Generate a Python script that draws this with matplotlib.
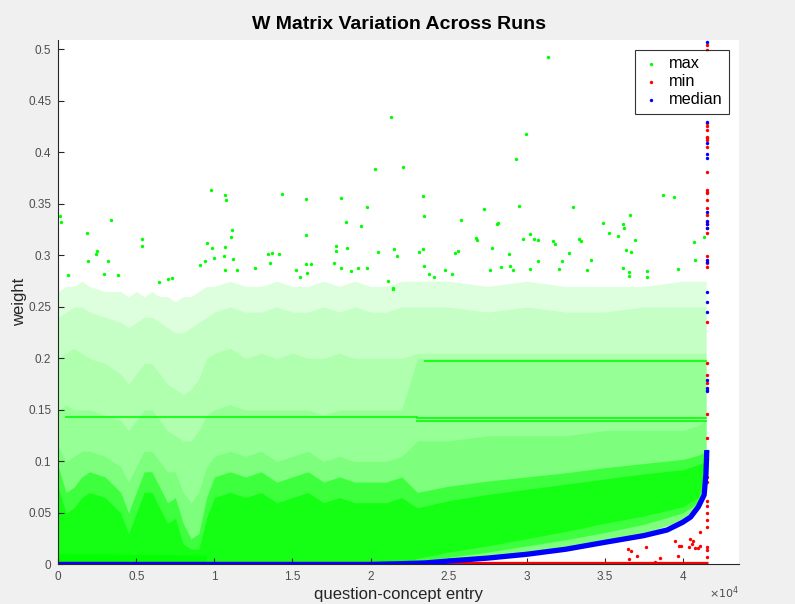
import numpy as np
import matplotlib
matplotlib.use('Agg')
import matplotlib.pyplot as plt

plt.rcParams['font.family'] = ['Liberation Sans', 'DejaVu Sans']

# ---- data (x in units of 1e4 entries) ----
# sparse "max" values above the dense cloud
max_out_x = [2.129, 2.027, 1.980, 1.941, 1.845, 1.809, 1.585, 1.433, 0.976, 1.068,
             1.076, 0.338, 0.010, 0.020, 0.182, 0.538, 0.538, 1.113, 1.106, 1.585,
             1.847, 1.777, 1.777, 2.048, 2.151, 0.951, 0.985, 1.066, 0.248, 0.244,
             0.188, 0.316, 1.345, 1.369, 1.414, 0.999, 1.063, 1.117, 0.060, 0.291,
             0.384, 1.262, 1.356, 1.589, 1.621, 1.591, 1.768, 1.811, 1.877, 1.920,
             1.980, 1.068, 1.147, 0.908, 0.938, 0.645, 0.701, 0.730, 1.525, 1.546,
             2.112, 2.146,
             3.139, 2.994, 2.206, 2.934, 2.336, 2.345, 2.953, 3.299, 2.729, 2.582,
             2.808, 2.819, 3.876, 3.944, 3.662, 3.487, 3.526, 3.583, 3.620, 3.626,
             3.692, 3.637, 3.667, 4.074, 4.138, 4.077, 3.972, 3.022, 3.049, 3.075,
             2.975, 3.171, 3.182, 3.338, 3.348, 3.272, 3.413, 3.229, 3.073, 2.889,
             2.776, 2.676, 2.682, 2.543, 2.560, 2.172, 2.311, 2.338, 2.343, 2.373,
             2.407, 2.479, 2.522, 2.766, 2.836, 2.896, 2.913, 3.024, 3.206, 3.389,
             3.616, 3.654, 3.658, 3.769, 3.769, 2.142]
max_out_y = [0.4345, 0.3837, 0.3468, 0.3283, 0.3328, 0.3555, 0.3549, 0.3597, 0.3639, 0.3584,
             0.3536, 0.3348, 0.3380, 0.3322, 0.3218, 0.3160, 0.3090, 0.3248, 0.3177, 0.3196,
             0.3070, 0.3090, 0.3044, 0.3030, 0.3060, 0.3118, 0.3076, 0.3086, 0.3040, 0.3010,
             0.2950, 0.2950, 0.3015, 0.3024, 0.3010, 0.2979, 0.2992, 0.2966, 0.2808, 0.2820,
             0.2814, 0.2876, 0.2923, 0.2915, 0.2918, 0.2827, 0.2924, 0.2882, 0.2852, 0.2876,
             0.2876, 0.2859, 0.2856, 0.2908, 0.2947, 0.2743, 0.2769, 0.2779, 0.2859, 0.2788,
             0.2755, 0.2675,
             0.4927, 0.4180, 0.3862, 0.3934, 0.3578, 0.3384, 0.3480, 0.3468, 0.3455, 0.3342,
             0.3306, 0.3319, 0.3587, 0.3571, 0.3393, 0.3316, 0.3215, 0.3192, 0.3303, 0.3270,
             0.3154, 0.3050, 0.3037, 0.3131, 0.3183, 0.2953, 0.2872, 0.3206, 0.3160, 0.3151,
             0.3157, 0.3141, 0.3109, 0.3160, 0.3144, 0.3027, 0.2953, 0.2944, 0.2944, 0.3012,
             0.3073, 0.3167, 0.3150, 0.3024, 0.3041, 0.2992, 0.3037, 0.3066, 0.2901, 0.2823,
             0.2788, 0.2859, 0.2817, 0.2862, 0.2888, 0.2895, 0.2859, 0.2869, 0.2866, 0.2862,
             0.2882, 0.2843, 0.2804, 0.2852, 0.2788, 0.2680]

# envelope of the "max" cloud, layered from sparse (top) to dense (bottom)
cloud_x = [0, 0.05, 0.1, 0.15, 0.2, 0.3, 0.4, 0.45, 0.5, 0.55, 0.6, 0.65, 0.7, 0.75,
           0.8, 0.85, 0.9, 0.95, 1.0, 1.1, 1.2, 1.3, 1.4, 1.5, 1.6, 1.7, 1.8, 1.9,
           2.0, 2.1, 2.2, 2.3, 2.5, 2.75, 3.0, 3.25, 3.5, 3.75, 4.0, 4.1, 4.15]
cloud_low = [0, 0, 0, 0, 0, 0, 0, 0, 0, 0, 0, 0, 0, 0,
             0, 0, 0, 0, 0, 0, 0, 0, 0, 0, 0, 0, 0, 0,
             0, 0, 0, 0.001, 0.004, 0.007, 0.011, 0.016, 0.023, 0.03, 0.043, 0.058, 0.09]
layer1_top = [0.265, 0.27, 0.27, 0.275, 0.27, 0.265, 0.265, 0.26, 0.265, 0.26, 0.265, 0.26, 0.26, 0.255,
              0.26, 0.26, 0.265, 0.27, 0.27, 0.275, 0.27, 0.27, 0.275, 0.27, 0.27, 0.275, 0.27, 0.275,
              0.27, 0.27, 0.275, 0.275, 0.275, 0.27, 0.275, 0.27, 0.27, 0.27, 0.275, 0.275, 0.275]
layer2_top = [0.24, 0.245, 0.25, 0.25, 0.245, 0.24, 0.235, 0.23, 0.235, 0.24, 0.24, 0.235, 0.23, 0.225,
              0.225, 0.23, 0.235, 0.24, 0.245, 0.25, 0.245, 0.245, 0.25, 0.245, 0.245, 0.25, 0.245, 0.25,
              0.245, 0.245, 0.25, 0.25, 0.25, 0.245, 0.25, 0.245, 0.245, 0.25, 0.25, 0.25, 0.25]
layer3_top = [0.2, 0.205, 0.21, 0.205, 0.2, 0.195, 0.185, 0.175, 0.185, 0.195, 0.195, 0.185, 0.175, 0.17,
              0.165, 0.17, 0.18, 0.2, 0.205, 0.21, 0.2, 0.205, 0.2, 0.205, 0.2, 0.2, 0.205, 0.2,
              0.2, 0.2, 0.2, 0.205, 0.205, 0.205, 0.205, 0.205, 0.205, 0.205, 0.205, 0.205, 0.205]
layer4_top = [0.15, 0.155, 0.15, 0.15, 0.15, 0.145, 0.14, 0.13, 0.14, 0.15, 0.15, 0.14, 0.13, 0.125,
              0.12, 0.12, 0.13, 0.145, 0.15, 0.155, 0.15, 0.15, 0.15, 0.15, 0.15, 0.145, 0.15, 0.15,
              0.15, 0.15, 0.15, 0.2, 0.2, 0.2, 0.2, 0.2, 0.2, 0.2, 0.2, 0.2, 0.2]
layer5_top = [0.115, 0.1, 0.105, 0.11, 0.11, 0.105, 0.095, 0.08, 0.095, 0.11, 0.11, 0.1, 0.09, 0.09,
              0.07, 0.06, 0.07, 0.095, 0.105, 0.11, 0.105, 0.11, 0.1, 0.105, 0.11, 0.1, 0.105, 0.1,
              0.1, 0.1, 0.105, 0.12, 0.12, 0.125, 0.125, 0.125, 0.13, 0.13, 0.13, 0.135, 0.14]
dense_low = [0, 0, 0, 0, 0, 0, 0, 0, 0, 0, 0, 0, 0, 0,
             0, 0, 0, 0, 0, 0, 0, 0, 0, 0, 0, 0, 0, 0,
             0, 0, 0, 0.003, 0.007, 0.012, 0.018, 0.024, 0.031, 0.039, 0.05, 0.06, 0.09]
dense_top = [0.095, 0.07, 0.075, 0.085, 0.09, 0.085, 0.07, 0.05, 0.07, 0.09, 0.09, 0.075, 0.06, 0.065,
             0.04, 0.025, 0.03, 0.065, 0.085, 0.09, 0.085, 0.09, 0.08, 0.085, 0.09, 0.08, 0.085, 0.08,
             0.08, 0.08, 0.085, 0.07, 0.076, 0.081, 0.085, 0.089, 0.094, 0.098, 0.102, 0.106, 0.11]
core_low = [0, 0, 0, 0, 0, 0, 0, 0, 0, 0, 0, 0, 0, 0,
            0, 0, 0, 0, 0, 0, 0, 0, 0, 0, 0, 0, 0, 0,
            0, 0, 0, 0.006, 0.012, 0.018, 0.025, 0.032, 0.04, 0.047, 0.056, 0.065, 0.095]
core_top = [0.075, 0.05, 0.055, 0.065, 0.07, 0.065, 0.05, 0.03, 0.05, 0.07, 0.07, 0.055, 0.04, 0.045,
            0.02, 0.015, 0.015, 0.045, 0.065, 0.07, 0.065, 0.07, 0.06, 0.065, 0.07, 0.06, 0.065, 0.06,
            0.06, 0.06, 0.065, 0.055, 0.062, 0.068, 0.073, 0.078, 0.083, 0.088, 0.092, 0.097, 0.1]
layer_alpha = [0.13, 0.11, 0.11, 0.14, 0.16]
floor_x = [0, 0.95]
floor_top = [0.011, 0.009]

# repeated "max" values forming horizontal streaks
streak_y = [0.1429, 0.1426, 0.1396, 0.1976]
streak_x0 = [0.05, 2.3, 2.3, 2.35]
streak_x1 = [2.3, 4.15, 4.15, 4.15]

# "min" values
min_line_x = [0, 4.16]
min_line_y = [0, 0]
min_pts_x = [4.111, 4.047, 4.068, 4.062, 4.042, 4.079, 4.100, 4.111, 3.951, 3.973,
             3.989, 3.968, 3.765, 3.709, 3.648, 3.669, 3.658, 3.855, 3.823]
min_pts_y = [0.0318, 0.0245, 0.0228, 0.0199, 0.0173, 0.0157, 0.0163, 0.018, 0.0231, 0.018,
             0.018, 0.0083, 0.0167, 0.0085, 0.0148, 0.0131, 0.0053, 0.006, 0.0027]
min_tail_y = [0.5044, 0.4995, 0.4283, 0.4257, 0.4218, 0.4153, 0.4138, 0.4121, 0.4056, 0.3814,
              0.3636, 0.362, 0.3604, 0.3539, 0.3458, 0.3393, 0.3328, 0.3306, 0.3264, 0.3216,
              0.2995, 0.2924, 0.2885, 0.2351, 0.1953, 0.184, 0.1765, 0.1694, 0.1461, 0.1225,
              0.0852, 0.0804, 0.0619, 0.0571, 0.0503, 0.0432, 0.0361, 0.0173, 0.0141, 0.007]
min_tail_x = 4.158

# "median" values
med_x = [0, 2.0, 2.2, 2.35, 2.5, 2.75, 3.0, 3.25, 3.5, 3.75, 3.9, 4.0, 4.05, 4.1,
         4.137, 4.149, 4.154]
med_y = [0, 0, 0.0008, 0.0015, 0.0034, 0.0062, 0.0099, 0.0148, 0.0215, 0.028, 0.0335,
         0.041, 0.046, 0.056, 0.0675, 0.0885, 0.111]
med_tail_y = [0.5076, 0.4299, 0.4089, 0.3985, 0.3947, 0.342, 0.3335, 0.3306, 0.3264, 0.2956,
              0.294, 0.2643, 0.2546, 0.2454, 0.1791, 0.1711, 0.1687, 0.1102, 0.1024]
med_tail_x = 4.154

scale = 1e4

fig = plt.figure(figsize=(7.95, 6.04), dpi=100, facecolor='#f0f0f0')
ax = fig.add_axes([0.0733, 0.0654, 0.8567, 0.8686])
ax.set_facecolor('white')

green = (0, 1, 0)
cx = np.array(cloud_x) * scale

# max: cloud drawn as layered density
layers = [layer1_top, layer2_top, layer3_top, layer4_top, layer5_top]
for top, a in zip(layers, layer_alpha):
    ax.fill_between(cx, cloud_low, top, color=green, alpha=a, lw=0)
ax.fill_between(cx, dense_low, dense_top, color=green, alpha=0.5, lw=0)
ax.fill_between(cx, core_low, core_top, color=green, alpha=0.65, lw=0)
ax.fill_between(np.array(floor_x) * scale, 0, floor_top, color=green, alpha=0.9, lw=0)
for y, a, b in zip(streak_y, streak_x0, streak_x1):
    ax.plot([a * scale, b * scale], [y, y], color=green, lw=1.3, alpha=0.9)
h_max = ax.scatter(np.array(max_out_x) * scale, max_out_y, s=6, color=green, lw=0)

# min
ax.plot(np.array(min_line_x) * scale, min_line_y, color='red', lw=3.8, solid_capstyle='butt')
h_min = ax.scatter(np.array(min_pts_x) * scale, min_pts_y, s=6, color='red', lw=0)
ax.scatter([min_tail_x * scale] * len(min_tail_y), min_tail_y, s=6, color='red', lw=0)

# median
ax.plot(np.array(med_x) * scale, med_y, color='blue', lw=3.8, solid_capstyle='butt')
h_med = ax.scatter([med_tail_x * scale] * len(med_tail_y), med_tail_y, s=6, color='blue', lw=0)

ax.set_xlim(0, 43626)
ax.set_ylim(0, 0.5092)

xt = [0, 0.5, 1, 1.5, 2, 2.5, 3, 3.5, 4]
ax.set_xticks([v * scale for v in xt])
ax.set_xticklabels(['0', '0.5', '1', '1.5', '2', '2.5', '3', '3.5', '4'])
yt = [0, 0.05, 0.1, 0.15, 0.2, 0.25, 0.3, 0.35, 0.4, 0.45, 0.5]
ax.set_yticks(yt)
ax.set_yticklabels(['0', '0.05', '0.1', '0.15', '0.2', '0.25', '0.3', '0.35', '0.4', '0.45', '0.5'])
ax.tick_params(direction='in', length=4, width=0.8, colors='#262626', labelcolor='#4d4d4d',
               labelsize=8.5, pad=5)
for s in ['top', 'right']:
    ax.spines[s].set_visible(False)
for s in ['left', 'bottom']:
    ax.spines[s].set_color('#262626')
    ax.spines[s].set_linewidth(0.8)

ax.text(1.0, -0.038, r'$\times10^{4}$', transform=ax.transAxes, ha='right', va='top',
        fontsize=8, color='#4d4d4d')

ax.set_title('W Matrix Variation Across Runs', fontsize=14, fontweight='bold', pad=8)
ax.set_xlabel('question-concept entry', fontsize=12, color='#262626')
ax.xaxis.set_label_coords(0.5, -0.042)
ax.set_ylabel('weight', fontsize=12, color='#262626')
ax.yaxis.set_label_coords(-0.046, 0.5)

leg = ax.legend([h_max, h_min, h_med], ['max', 'min', 'median'], loc='upper right',
                bbox_to_anchor=(0.985, 0.981), borderaxespad=0, fontsize=11.7, frameon=True,
                fancybox=False, markerscale=1.0, handletextpad=0.58, borderpad=0.4,
                labelspacing=0.18, handlelength=1.1)
leg.get_frame().set_edgecolor('black')
leg.get_frame().set_linewidth(0.8)

fig.savefig('out.png', dpi=100, facecolor=fig.get_facecolor())
